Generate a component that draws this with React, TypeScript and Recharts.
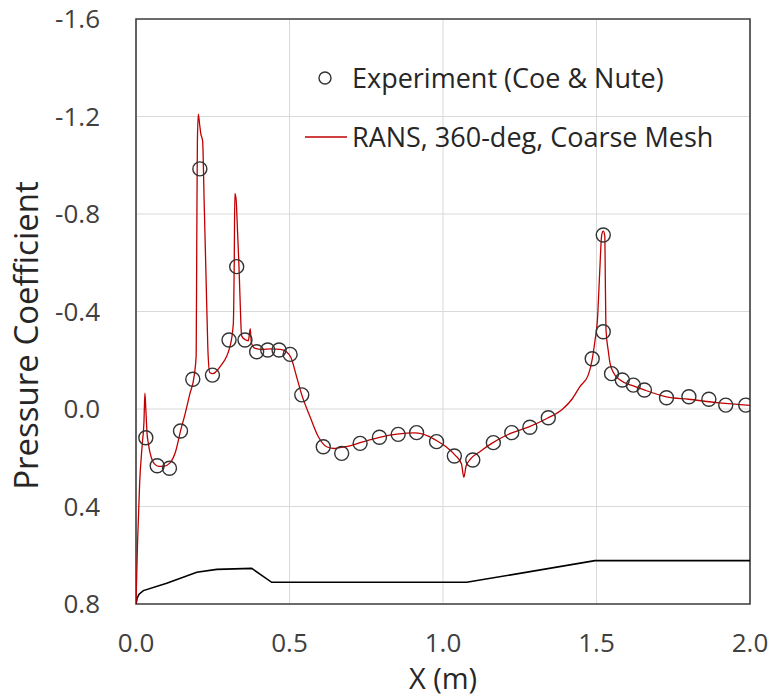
import {
  CartesianGrid,
  ComposedChart,
  Legend,
  Line,
  ReferenceArea,
  Scatter,
  XAxis,
  YAxis,
} from 'recharts';

// Experiment (Coe & Nute)
const EXP_X = [
  0.032, 0.069, 0.109, 0.145, 0.185, 0.208, 0.249, 0.303, 0.328, 0.355, 0.393, 0.429, 0.466, 0.502,
  0.54, 0.61, 0.67, 0.73, 0.793, 0.854, 0.914, 0.979, 1.037, 1.097, 1.164, 1.224, 1.283, 1.343,
  1.486, 1.522, 1.522, 1.549, 1.584, 1.62, 1.656, 1.728, 1.801, 1.866, 1.921, 1.986,
];
const EXP_CP = [
  0.118, 0.233, 0.243, 0.09, -0.122, -0.985, -0.139, -0.283, -0.584, -0.283, -0.235, -0.242, -0.242,
  -0.224, -0.058, 0.155, 0.182, 0.141, 0.116, 0.104, 0.097, 0.134, 0.193, 0.209, 0.138, 0.097, 0.075,
  0.036, -0.206, -0.714, -0.317, -0.145, -0.119, -0.098, -0.078, -0.046, -0.05, -0.04, -0.016, -0.016,
];

// RANS, 360-deg, Coarse Mesh
const RANS_X = [
  0, 0.005, 0.012, 0.02, 0.026, 0.029, 0.032, 0.036, 0.04, 0.05, 0.06, 0.075, 0.09, 0.11, 0.13,
  0.145, 0.16, 0.175, 0.19, 0.196, 0.198, 0.2, 0.203, 0.207, 0.211, 0.217, 0.222, 0.228, 0.234, 0.24,
  0.25, 0.274, 0.306, 0.317, 0.32, 0.322, 0.326, 0.331, 0.335, 0.339, 0.344, 0.355, 0.366, 0.372,
  0.376, 0.388, 0.41, 0.44, 0.47, 0.49, 0.505, 0.523, 0.54, 0.567, 0.594, 0.621, 0.645, 0.664, 0.7,
  0.73, 0.79, 0.85, 0.91, 0.95, 0.98, 1.01, 1.04, 1.06, 1.068, 1.075, 1.09, 1.12, 1.16, 1.22, 1.28,
  1.34, 1.39, 1.42, 1.446, 1.473, 1.486, 1.495, 1.503, 1.51, 1.517, 1.522, 1.527, 1.529, 1.531,
  1.538, 1.544, 1.555, 1.577, 1.62, 1.656, 1.728, 1.8, 1.9, 2.0,
];
const RANS_CP = [
  0.8, 0.55, 0.3, 0.15, 0.05, -0.065, 0.0, 0.1, 0.14, 0.2, 0.225, 0.235, 0.235, 0.222, 0.17, 0.09,
  0.02, -0.06, -0.14, -0.22, -0.7, -1.1, -1.21, -1.17, -1.13, -1.1, -0.85, -0.55, -0.25, -0.15,
  -0.145, -0.174, -0.256, -0.35, -0.6, -0.885, -0.86, -0.72, -0.6, -0.45, -0.3, -0.285, -0.28, -0.33,
  -0.27, -0.249, -0.245, -0.247, -0.245, -0.235, -0.21, -0.133, -0.058, 0.032, 0.114, 0.155, 0.162,
  0.158, 0.15, 0.138, 0.117, 0.103, 0.098, 0.11, 0.13, 0.155, 0.19, 0.225, 0.28, 0.235, 0.205, 0.175,
  0.14, 0.1, 0.073, 0.038, 0.0, -0.04, -0.092, -0.139, -0.204, -0.28, -0.365, -0.55, -0.714, -0.73,
  -0.71, -0.5, -0.324, -0.242, -0.188, -0.15, -0.119, -0.095, -0.078, -0.05, -0.04, -0.025, -0.015,
];

// body geometry outline
const GEOM_X = [0, 0.004, 0.01, 0.024, 0.1, 0.198, 0.263, 0.377, 0.442, 1.077, 1.495, 2.0];
const GEOM_CP = [0.8, 0.775, 0.76, 0.745, 0.715, 0.67, 0.658, 0.654, 0.711, 0.711, 0.622, 0.622];

const X_TICKS = [0, 0.5, 1.0, 1.5, 2.0];
const Y_TICKS = [-1.6, -1.2, -0.8, -0.4, 0, 0.4, 0.8];

const zip = (xs: number[], ys: number[]) => xs.map((x, i) => ({ x, cp: ys[i] }));

const expData = zip(EXP_X, EXP_CP);
const ransData = zip(RANS_X, RANS_CP);
const geomData = zip(GEOM_X, GEOM_CP);

const FONT = "'Open Sans', sans-serif";
const TEXT = '#404040';
const TITLE = '#262626';
const RED = '#c00000';

function OpenCircle(props: any) {
  const { cx, cy } = props;
  return <circle cx={cx} cy={cy} r={7} fill="none" stroke="#333" strokeWidth={1.4} />;
}

function ChartLegend() {
  const row = { display: 'flex', alignItems: 'center', height: 59 };
  return (
    <div style={{ fontFamily: FONT, fontSize: 27, color: TITLE }}>
      <div style={row}>
        <svg width={50} height={20}>
          <circle cx={25} cy={10} r={6} fill="none" stroke="#333" strokeWidth={1.4} />
        </svg>
        <span style={{ marginLeft: 2 }}>Experiment (Coe &amp; Nute)</span>
      </div>
      <div style={row}>
        <svg width={50} height={20}>
          <line x1={5} y1={10} x2={47} y2={10} stroke={RED} strokeWidth={1.5} />
        </svg>
        <span style={{ marginLeft: 2 }}>RANS, 360-deg, Coarse Mesh</span>
      </div>
    </div>
  );
}

export default function App() {
  return (
    <div style={{ position: 'absolute', left: 0, top: 0, background: '#fff' }}>
      <ComposedChart
        width={769}
        height={699}
        margin={{ top: 19, right: 19, bottom: 0, left: 0 }}
        style={{ fontFamily: FONT }}
      >
        <CartesianGrid stroke="#d9d9d9" strokeWidth={1} />
        <XAxis
          type="number"
          dataKey="x"
          domain={[0, 2]}
          ticks={X_TICKS}
          tickFormatter={(v: number) => v.toFixed(1)}
          allowDataOverflow
          height={95}
          axisLine={false}
          tickLine={false}
          tickSize={0}
          tickMargin={30}
          tick={{ fill: TEXT, fontSize: 26 }}
          label={({ viewBox }: any) => (
            <text
              x={viewBox.x + viewBox.width / 2}
              y={viewBox.y + viewBox.height - 10}
              textAnchor="middle"
              fill={TITLE}
              fontSize={29}
              fontFamily={FONT}
            >
              X (m)
            </text>
          )}
        />
        <YAxis
          type="number"
          dataKey="cp"
          reversed
          domain={[-1.6, 0.8]}
          ticks={Y_TICKS}
          tickFormatter={(v: number) => v.toFixed(1)}
          allowDataOverflow
          width={136}
          axisLine={false}
          tickLine={false}
          tickSize={0}
          tickMargin={36}
          tick={{ fill: TEXT, fontSize: 26 }}
          label={({ viewBox }: any) => {
            const lx = viewBox.x + 38;
            const ly = viewBox.y + viewBox.height / 2 + 24;
            return (
              <text
                x={lx}
                y={ly}
                transform={`rotate(-90, ${lx}, ${ly})`}
                textAnchor="middle"
                fill={TITLE}
                fontSize={33}
                fontFamily={FONT}
              >
                Pressure Coefficient
              </text>
            );
          }}
        />
        <Legend
          layout="vertical"
          align="center"
          verticalAlign="middle"
          content={<ChartLegend />}
          wrapperStyle={{ position: 'absolute', left: 300, top: 48, width: 460 }}
        />
        <Line
          data={geomData}
          dataKey="cp"
          type="linear"
          stroke="#000"
          strokeWidth={1.6}
          dot={false}
          activeDot={false}
          isAnimationActive={false}
          legendType="none"
        />
        <Scatter data={expData} dataKey="cp" shape={<OpenCircle />} isAnimationActive={false} />
        <Line
          data={ransData}
          dataKey="cp"
          type="monotone"
          stroke={RED}
          strokeWidth={1.3}
          dot={false}
          activeDot={false}
          isAnimationActive={false}
        />
        <ReferenceArea
          x1={0}
          x2={2}
          y1={-1.6}
          y2={0.8}
          fill="none"
          fillOpacity={0}
          stroke="#404040"
          strokeWidth={1.6}
          ifOverflow="visible"
        />
      </ComposedChart>
    </div>
  );
}
